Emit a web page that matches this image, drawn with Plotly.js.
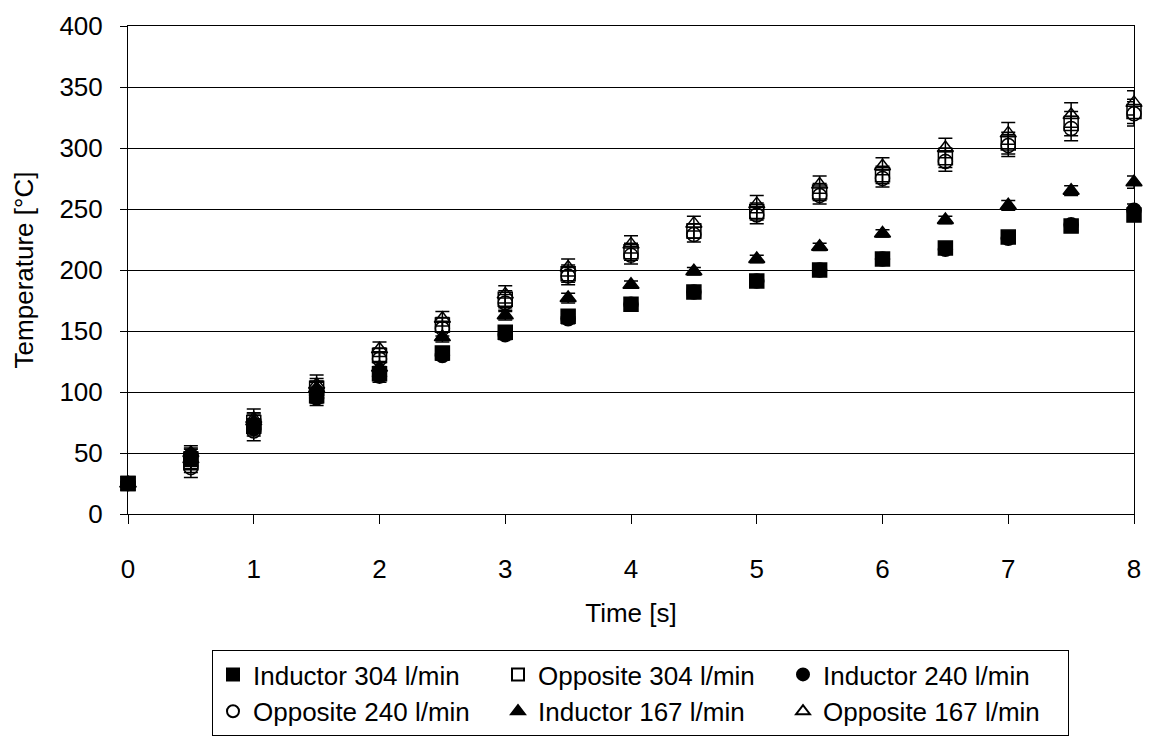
<!DOCTYPE html>
<html>
<head>
<meta charset="utf-8">
<script src="https://cdn.plot.ly/plotly-3.0.1.min.js"></script>
<style>html,body{margin:0;padding:0;background:#fff;}#chart{width:1151px;height:742px;}</style>
</head>
<body>
<div id="chart"></div>
<script>
var time = [0, 0.5, 1, 1.5, 2, 2.5, 3, 3.5, 4, 4.5, 5, 5.5, 6, 6.5, 7, 7.5, 8];

var inductor304 = [25, 45, 72, 97, 115, 132, 149, 162, 172, 182, 191, 200, 209, 218, 227, 236, 245];
var opposite304 = [25, 42, 75, 103, 130, 155, 176, 197, 215, 232, 248, 264, 278, 292, 304, 320, 330];
var inductor240 = [25, 48, 70, 95, 113, 130, 147, 160, 172, 182, 191, 200, 209, 217, 226, 237, 249];
var opposite240 = [25, 38, 68, 100, 127, 152, 173, 195, 212, 229, 245, 261, 275, 289, 302, 316, 328];
var inductor167 = [25, 50, 76, 103, 120, 145, 163, 177, 188, 199, 209, 219, 230, 241, 253, 265, 272];
var opposite167 = [25, 45, 78, 106, 135, 160, 180, 202, 221, 238, 254, 270, 285, 300, 312, 327, 337];

var errInductor = [2, 6, 6, 6, 5, 4, 4, 4, 3, 3, 3, 3, 3, 3, 4, 4, 5];
var errOpposite = [2, 8, 8, 8, 6, 6, 7, 7, 7, 6, 7, 7, 7, 8, 9, 10, 10];

var names = ['Inductor 304 l/min', 'Opposite 304 l/min', 'Inductor 240 l/min',
             'Opposite 240 l/min', 'Inductor 167 l/min', 'Opposite 167 l/min'];

var seriesData = [inductor304, opposite304, inductor240, opposite240, inductor167, opposite167];
var symbols = ['square', 'square-open', 'circle', 'circle-open', 'triangle-up', 'triangle-up-open'];
var errs = [errInductor, errOpposite, errInductor, errOpposite, errInductor, errOpposite];

var traces = seriesData.map(function (ys, i) {
  return {
    x: time, y: ys, name: names[i], type: 'scatter', mode: 'markers',
    cliponaxis: false,
    marker: {symbol: symbols[i], size: 14, color: '#000', line: {color: '#000', width: 1.5}},
    error_y: {type: 'data', array: errs[i], visible: true, color: '#000', thickness: 1.5, width: 7}
  };
});

var layout = {
  width: 1151, height: 742,
  margin: {l: 128, r: 17, t: 26, b: 228},
  paper_bgcolor: '#fff', plot_bgcolor: '#fff',
  font: {family: 'Liberation Sans, Arial, sans-serif', size: 26, color: '#000'},
  showlegend: true,
  xaxis: {
    range: [0, 8], dtick: 1, tick0: 0, showgrid: false, zeroline: false,
    showline: true, linecolor: '#000', linewidth: 1, mirror: true,
    ticks: 'outside', ticklen: 9, tickcolor: '#000', ticklabelstandoff: 23,
    tickfont: {size: 26}, automargin: false,
    title: {text: 'Time [s]', font: {size: 26}, standoff: 20}
  },
  yaxis: {
    range: [0, 400], dtick: 50, tick0: 0, showgrid: true, gridcolor: '#000', gridwidth: 1,
    zeroline: false, showline: true, linecolor: '#000', linewidth: 1, mirror: true,
    ticks: 'outside', ticklen: 7, tickcolor: '#000', ticklabelstandoff: 12,
    tickfont: {size: 26}, automargin: false,
    title: {text: 'Temperature [°C]', font: {size: 26}, standoff: 18}
  },
  legend: {
    orientation: 'h', x: 0.0835, xanchor: 'left',
    yref: 'container', y: 0.124, yanchor: 'top',
    bordercolor: '#000', borderwidth: 1, bgcolor: '#fff',
    font: {size: 26}, entrywidth: 240, entrywidthmode: 'pixels',
    itemsizing: 'constant', tracegroupgap: 0
  }
};

Plotly.newPlot('chart', traces, layout, {displayModeBar: false, staticPlot: true});
</script>
</body>
</html>
